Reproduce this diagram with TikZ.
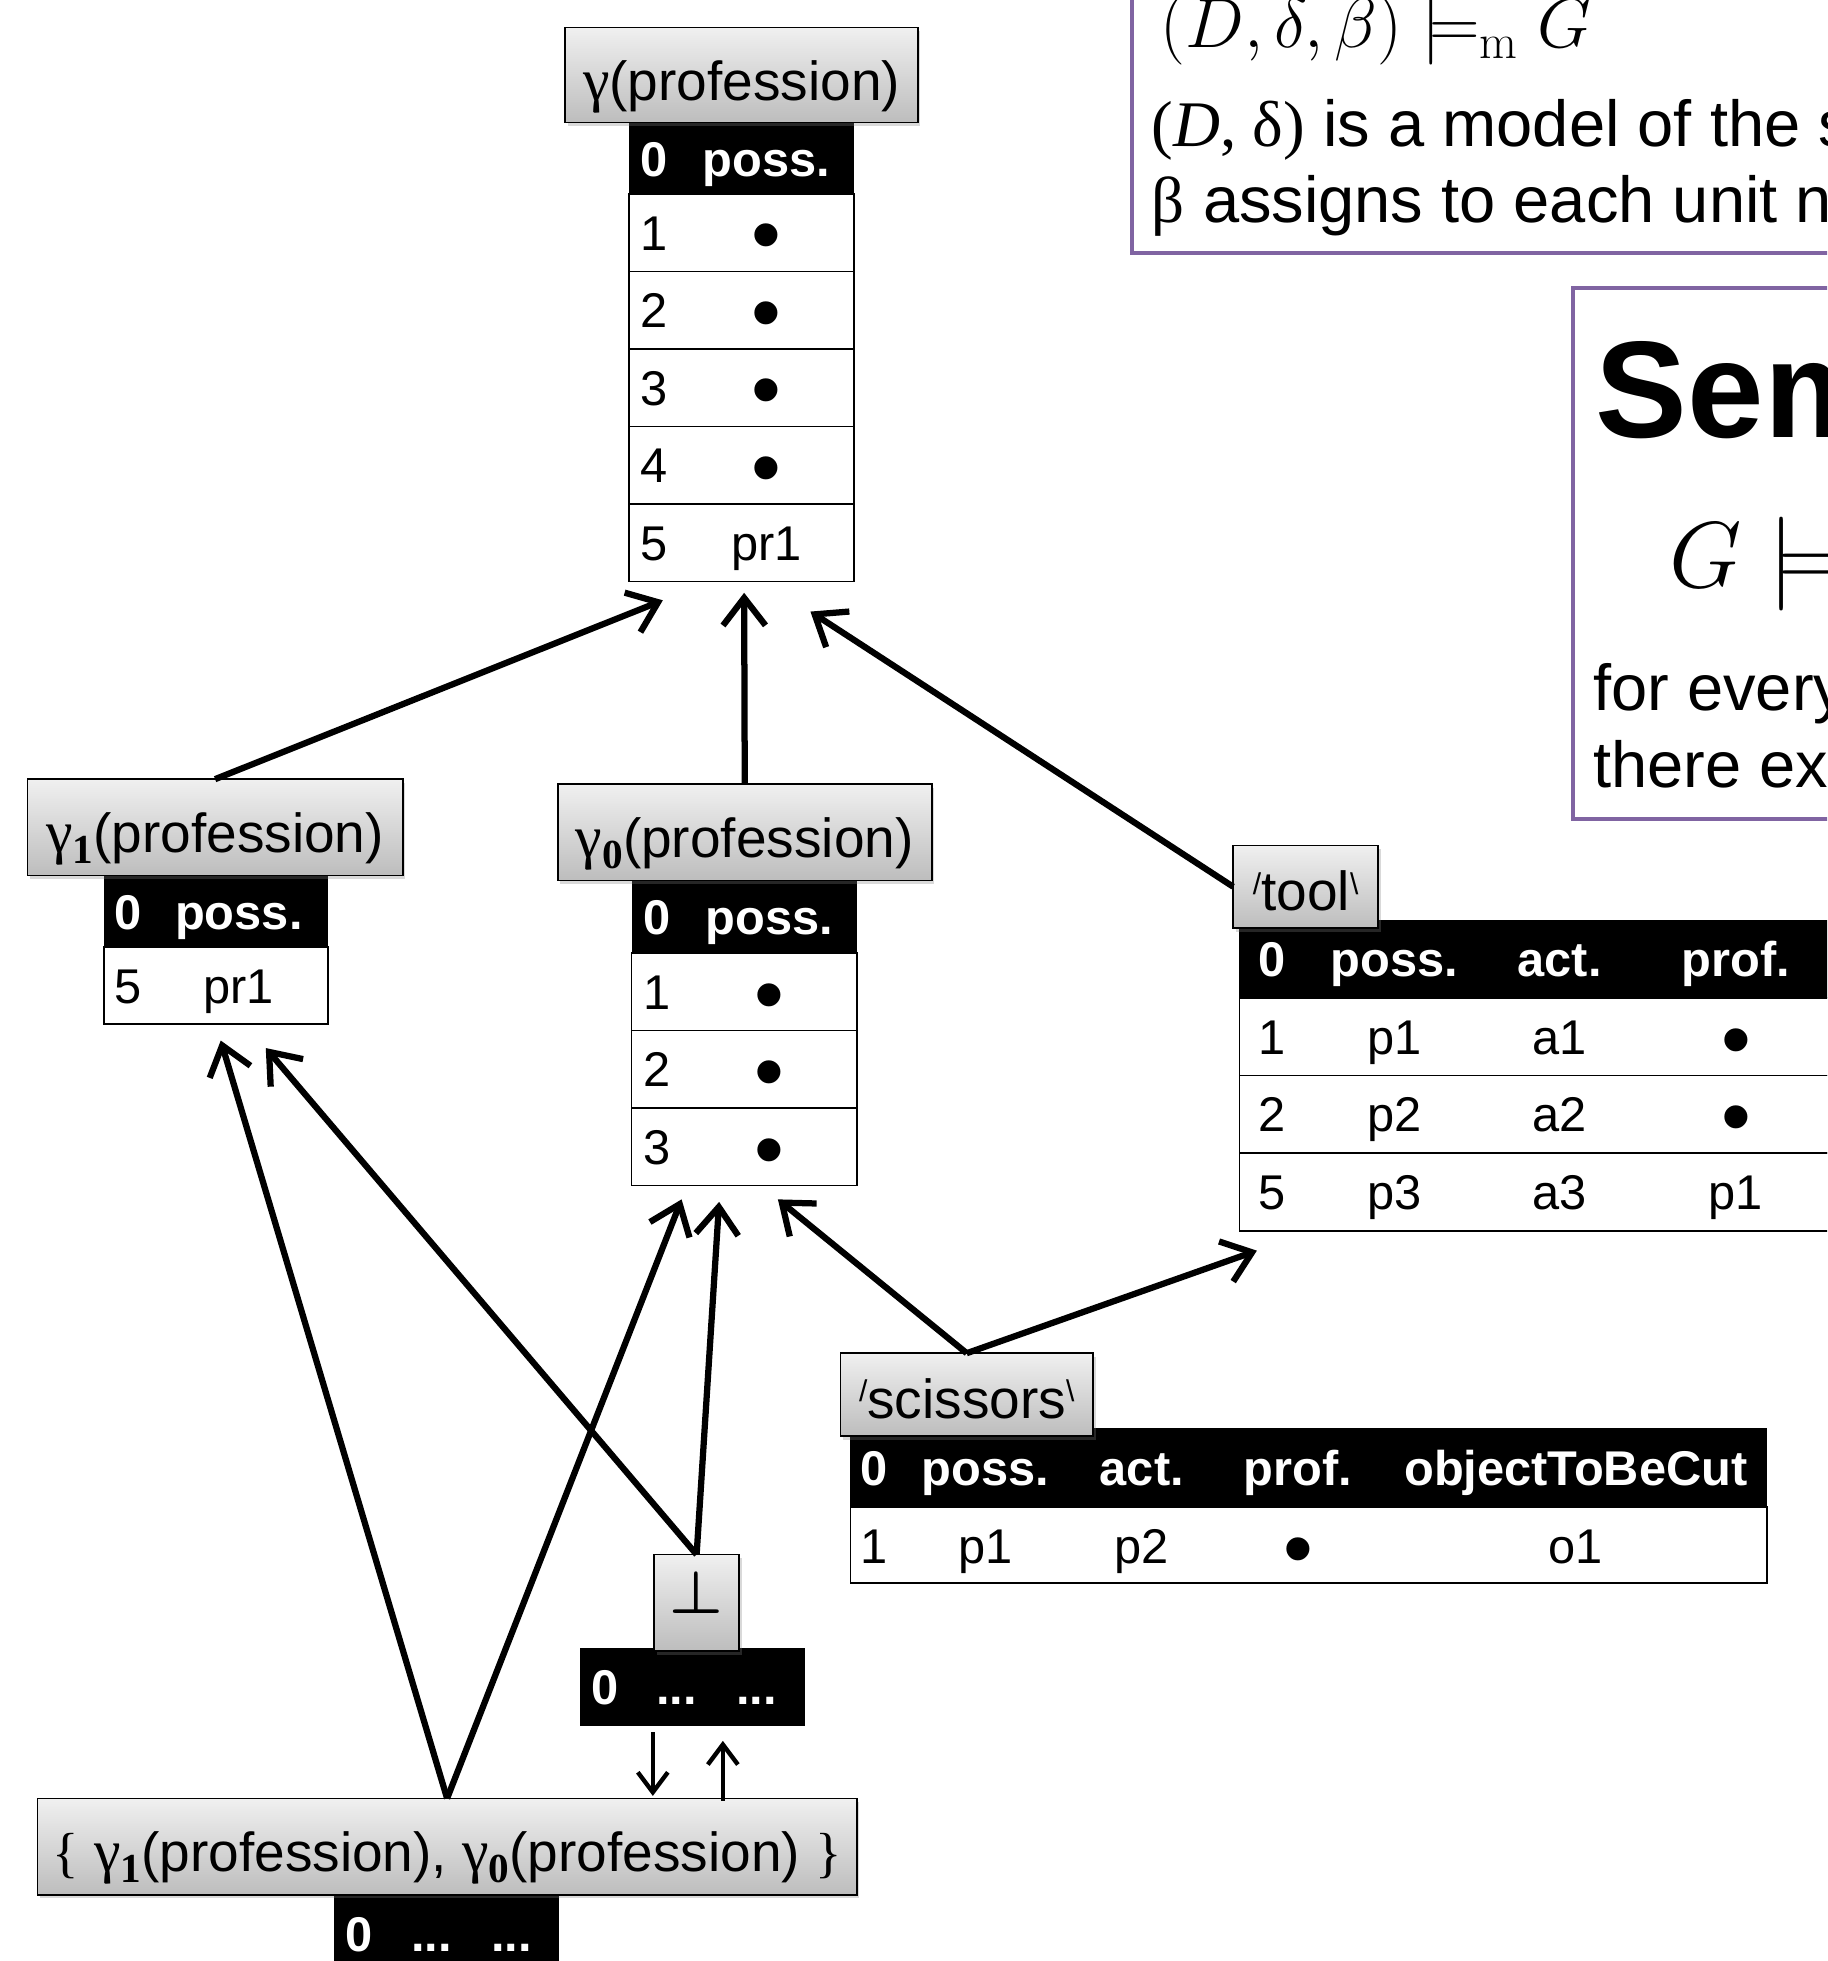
\RequirePackage{fix-cm}
\documentclass[tikz,border=0pt]{standalone}
\usepackage[no-math]{fontspec}
\setmainfont{Liberation Sans}
\newfontfamily\grk{Liberation Serif}
\usetikzlibrary{arrows.meta,calc,shadows}
\definecolor{rpurple}{HTML}{8064A2}
\definecolor{labtop}{HTML}{F0F0F0}
\definecolor{labbot}{HTML}{BDBDBD}
\newcommand{\gam}{{\fontsize{48}{50}\selectfont\grk γ}}
\newcommand{\gsub}[1]{\raisebox{-9pt}{\fontsize{33}{33}\selectfont\grk\bfseries #1}}
\newcommand{\tick}[1]{\raisebox{13pt}{\fontsize{24}{24}\selectfont #1}}
\newcommand{\ddd}{.\kern0pt.\kern0pt.}
\newcommand{\dt}{\raisebox{-11pt}{\fontsize{68}{68}\selectfont•}}

\begin{document}
\begin{tikzpicture}[x=1pt,y=-1pt,
  every node/.style={inner sep=0pt,outer sep=0pt},
  lab/.style={draw,line width=1.3pt,top color=labtop,bottom color=labbot,
    drop shadow={shadow xshift=2pt,shadow yshift=-3pt,opacity=0.3},
    text height=48pt,text depth=8pt,font=\fontsize{44}{50}\selectfont},
  hdr/.style={fill=black,anchor=north},
  cell/.style={draw,fill=white,line width=1.4pt,anchor=north},
  ht/.style={anchor=base,text=white,font=\fontsize{39}{44}\selectfont\bfseries},
  ct/.style={anchor=base,font=\fontsize{39}{44}\selectfont},
  arr/.style={line width=5pt,-{Straight Barb[length=22pt,width=34pt]}},
  sarr/.style={line width=3.5pt,-{Straight Barb[length=16pt,width=24pt]}},
  pbox/.style={draw=rpurple,line width=3pt},
  big/.style={anchor=base west}]
\useasboundingbox (0,0) rectangle (1461,1568);
\clip (0,0) rectangle (1461,1568);

% the two boxes at the right
\draw[pbox] (905,-20) rectangle (1490,202);
\draw[pbox] (1258,230) rectangle (1490,655);
\node[big,font=\fontsize{56}{60}\selectfont] (sat) at (928,38) {$(D,\delta,\beta)\models_{\mathrm{m}}G$};
\node[big,font=\fontsize{52}{60}\selectfont] (satA) at (921,117) {{\grk(\textit{D}, δ)} is a model of the s};
\node[big,font=\fontsize{52}{60}\selectfont] (satB) at (921,178) {{\grk β} assigns to each unit n};
\node[big,font=\fontsize{110}{120}\selectfont\bfseries] (sem) at (1276,350) {Sem};
\node[big,font=\fontsize{75}{80}\selectfont] (semf) at (1335,470) {$G\models{}$};
\node[big,font=\fontsize{52}{60}\selectfont] (semA) at (1274,568) {for every};
\node[big,font=\fontsize{52}{60}\selectfont] (semB) at (1274,630) {there ex};

% gamma(profession)
\node[hdr,minimum width=180pt,minimum height=57pt] (gh) at (593,98) {};
\foreach \i in {1,...,5}
  \node[cell,minimum width=180pt,minimum height=62pt] (gr\i) at (593,93+62*\i) {};
\node[ht] (gh0) at (523,141) {0};
\node[ht] (gh1) at (613,141) {poss.};
\foreach \n/\v [count=\i] in {1/\dt,2/\dt,3/\dt,4/\dt,5/pr1} {
  \node[ct] (gn\i) at (523,138+62*\i) {\n};
  \node[ct] (gv\i) at (613,138+62*\i) {\v};
}

% gamma_1(profession)
\node[hdr,minimum width=179pt,minimum height=57pt] (g1h) at (172.5,700) {};
\node[cell,minimum width=179pt,minimum height=62pt] (g1r) at (172.5,757) {};
\node[ht] (g1h0) at (102,743) {0};
\node[ht] (g1h1) at (191,743) {poss.};
\node[ct] (g1n) at (102,802) {5};
\node[ct] (g1v) at (191,802) {pr1};

% gamma_0(profession)
\node[hdr,minimum width=180pt,minimum height=58pt] (g0h) at (595,704) {};
\foreach \i in {1,2,3}
  \node[cell,minimum width=180pt,minimum height=62pt] (g0r\i) at (595,700+62*\i) {};
\node[ht] (g0h0) at (525,747) {0};
\node[ht] (g0h1) at (615,747) {poss.};
\foreach \i in {1,2,3} {
  \node[ct] (g0n\i) at (525,745+62*\i) {\i};
  \node[ct] (g0v\i) at (615,745+62*\i) {\dt};
}

% tool
\node[hdr,minimum width=489pt,minimum height=62pt] (th) at (1235.5,736) {};
\foreach \i in {1,2,3}
  \node[cell,minimum width=489pt,minimum height=62pt] (tr\i) at (1235.5,736+62*\i) {};
\foreach \x/\t [count=\j] in {1017/0,1115/poss.,1247/act.,1388/prof.}
  \node[ht] (th\j) at (\x,781) {\t};
\foreach \a/\b/\c/\d [count=\i] in {1/p1/a1/\dt,2/p2/a2/\dt,5/p3/a3/p1} {
  \node[ct] (ta\i) at (1017,781+62*\i) {\a};
  \node[ct] (tb\i) at (1115,781+62*\i) {\b};
  \node[ct] (tc\i) at (1247,781+62*\i) {\c};
  \node[ct] (td\i) at (1388,781+62*\i) {\d};
}

% scissors
\node[hdr,minimum width=733pt,minimum height=63pt] (sh) at (1046.5,1142) {};
\node[cell,minimum width=733pt,minimum height=61pt] (sr) at (1046.5,1205) {};
\foreach \x/\t/\v [count=\j] in {699/0/1,788/poss./p1,913/act./p2,1038/prof./\dt,1260/objectToBeCut/o1} {
  \node[ht] (sh\j) at (\x,1188) {\t};
  \node[ct] (sv\j) at (\x,1250) {\v};
}

% bottom and set
\node[hdr,minimum width=180pt,minimum height=62pt] (bh) at (554,1318) {};
\foreach \x/\t [count=\j] in {484/0,541/\ddd,605/\ddd}
  \node[ht] (bh\j) at (\x,1363) {\t};
\node[hdr,minimum width=180pt,minimum height=62pt] (seth) at (357,1515) {};
\foreach \x/\t [count=\j] in {287/0,345/\ddd,409/\ddd}
  \node[ht] (seth\j) at (\x,1560) {\t};

% labels
\node[lab,minimum width=282pt,minimum height=76pt] (gl) at (593,60) {\gam(profession)};
\node[lab,minimum width=300pt,minimum height=77pt] (g1l) at (172,661.5) {\gam\gsub{1}(profession)};
\node[lab,minimum width=299pt,minimum height=77pt] (g0l) at (595.5,665.5) {\gam\gsub{0}(profession)};
\node[lab,minimum width=116pt,minimum height=66pt,text height=46pt] (tl) at (1044,709) {\tick{/}tool\tick{\textbackslash}};
\node[lab,minimum width=202pt,minimum height=66pt,text height=46pt] (sl) at (773,1115) {\tick{/}scissors\tick{\textbackslash}};
\node[lab,minimum width=68pt,minimum height=77pt,text height=32pt,text depth=15pt,
  font=\fontsize{48}{50}\selectfont\boldmath] (bl) at (557,1281.5) {$\bot$};
\node[lab,minimum width=655pt,minimum height=77pt] (setl) at (357.5,1476.5)
  {{\grk\{} \gam\gsub{1}(profession), \gam\gsub{0}(profession) {\grk\}}};

% arrows
\draw[arr] (g1l.north) -- ($(gr5.south)+(-63,15)$);
\draw[arr] (g0l.north) -- ($(gr5.south)+(2,9)$);
\draw[arr] (tl.west) -- ($(gr5.south)+(55,24)$);
\draw[arr] (sl.north) -- ($(g0r3.south)+(27,11)$);
\draw[arr] (sl.north) -- ($(tr3.south west)+(14,16)$);
\draw[arr] (bl.north) -- ($(g1r.south)+(40,19)$);
\draw[arr] (bl.north) -- ($(g0r3.south)+(-20,13)$);
\draw[arr] (setl.north) -- ($(g1r.south)+(4,13)$);
\draw[arr] (setl.north) -- ($(g0r3.south)+(-50,11)$);
\draw[sarr] ($(bh.south)+(-32,5)$) -- ($(setl.north)+(164.5,-2)$);
\draw[sarr] ($(setl.north)+(220.5,2)$) -- ($(bh.south)+(24,12)$);
\end{tikzpicture}
\end{document}
